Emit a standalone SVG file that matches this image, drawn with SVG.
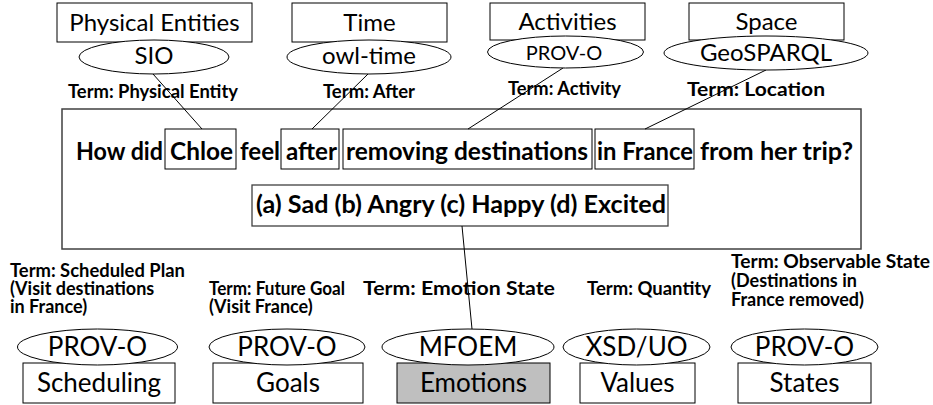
<svg xmlns="http://www.w3.org/2000/svg" width="933" height="405" viewBox="0 0 933 405">
<style>
.bg{fill:#fff}
.box{fill:#fff;stroke:#000;stroke-width:1}
.ell{fill:#fff;stroke:#000;stroke-width:1}
.wbox{fill:none;stroke:#000;stroke-width:1}
.main{fill:#fff;stroke:#404040;stroke-width:1.5}
.ans{fill:none;stroke:#404040;stroke-width:1.3}
.gray{fill:#bfbfbf;stroke:#000;stroke-width:1}
.con{stroke:#000;stroke-width:1;fill:none}
text{font-family:Lato,"Liberation Sans",sans-serif;fill:#000}
.lbl{font-size:24px;text-anchor:middle}
.lbs{font-size:20px;text-anchor:middle}
.lbb{font-size:26px;text-anchor:middle}
.term{font-size:18px;font-weight:bold}
.q{font-size:24px;font-weight:bold}
</style>
<rect class="bg" x="0" y="0" width="933" height="405"/>

<g id="question">
<rect class="main" x="62" y="109" width="799" height="140"/>
<rect class="wbox" x="165" y="129" width="71" height="40"/>
<rect class="wbox" x="281" y="129" width="58" height="40"/>
<rect class="wbox" x="343" y="129" width="249" height="40"/>
<rect class="wbox" x="595" y="129" width="99" height="40"/>
<text class="q" x="76" y="160" textLength="87" lengthAdjust="spacingAndGlyphs">How did</text>
<text class="q" x="170" y="160" textLength="63" lengthAdjust="spacingAndGlyphs">Chloe</text>
<text class="q" x="240" y="160" textLength="40" lengthAdjust="spacingAndGlyphs">feel</text>
<text class="q" x="286" y="160" textLength="51" lengthAdjust="spacingAndGlyphs">after</text>
<text class="q" x="346" y="160" textLength="242" lengthAdjust="spacingAndGlyphs">removing destinations</text>
<text class="q" x="597" y="160" textLength="96" lengthAdjust="spacingAndGlyphs">in France</text>
<text class="q" x="700" y="160" textLength="153" lengthAdjust="spacingAndGlyphs">from her trip?</text>
</g>

<g id="answers">
<rect class="ans" x="252" y="185" width="416" height="41"/>
<text class="q" x="256" y="213" textLength="410" lengthAdjust="spacingAndGlyphs">(a) Sad (b) Angry (c) Happy (d) Excited</text>
</g>

<g id="connectors">
<line class="con" x1="153" y1="74" x2="202" y2="129"/>
<line class="con" x1="368" y1="74" x2="312" y2="129"/>
<line class="con" x1="563" y1="68" x2="468" y2="129"/>
<line class="con" x1="766" y1="70" x2="645" y2="129"/>
<line class="con" x1="462" y1="226" x2="472" y2="329"/>
</g>

<g id="physical-entities">
<rect class="box" x="57" y="3" width="195" height="39"/>
<text class="lbl" x="154.5" y="31">Physical Entities</text>
<ellipse class="ell" cx="154" cy="57" rx="75" ry="17"/>
<text class="lbl" x="154" y="64">SIO</text>
<text class="term" x="68" y="98" textLength="170" lengthAdjust="spacingAndGlyphs">Term: Physical Entity</text>
</g>

<g id="time">
<rect class="box" x="292" y="3" width="155" height="39"/>
<text class="lbl" x="369.5" y="31">Time</text>
<ellipse class="ell" cx="369" cy="57" rx="82" ry="17"/>
<text class="lbl" x="369" y="64">owl-time</text>
<text class="term" x="323" y="98" textLength="92" lengthAdjust="spacingAndGlyphs">Term: After</text>
</g>

<g id="activities">
<rect class="box" x="490" y="3" width="155" height="37"/>
<text class="lbl" x="567.5" y="30">Activities</text>
<ellipse class="ell" cx="565.5" cy="52" rx="78" ry="16"/>
<text class="lbs" x="564" y="60">PROV-O</text>
<text class="term" x="508" y="95" textLength="113" lengthAdjust="spacingAndGlyphs">Term: Activity</text>
</g>

<g id="space">
<rect class="box" x="689" y="3" width="155" height="37"/>
<text class="lbl" x="766.5" y="30">Space</text>
<ellipse class="ell" cx="766" cy="53" rx="102" ry="17"/>
<text class="lbl" x="766" y="61">GeoSPARQL</text>
<text class="term" x="687" y="96" textLength="138" lengthAdjust="spacingAndGlyphs">Term: Location</text>
</g>

<g id="scheduling">
<text class="term" x="10" y="277" textLength="175" lengthAdjust="spacingAndGlyphs">Term: Scheduled Plan</text>
<text class="term" x="10" y="295">(Visit destinations</text>
<text class="term" x="10" y="313">in France)</text>
<rect class="box" x="23" y="363" width="152" height="40"/>
<text class="lbb" x="99" y="392">Scheduling</text>
<ellipse class="ell" cx="97.5" cy="347" rx="80" ry="18"/>
<text class="lbb" x="97.5" y="356">PROV-O</text>
</g>

<g id="goals">
<text class="term" x="209" y="295" textLength="136" lengthAdjust="spacingAndGlyphs">Term: Future Goal</text>
<text class="term" x="209" y="313">(Visit France)</text>
<rect class="box" x="213" y="363" width="150" height="40"/>
<text class="lbb" x="288" y="392">Goals</text>
<ellipse class="ell" cx="287" cy="347" rx="78" ry="18"/>
<text class="lbb" x="287" y="356">PROV-O</text>
</g>

<g id="emotions">
<text class="term" x="363" y="295" textLength="192" lengthAdjust="spacingAndGlyphs">Term: Emotion State</text>
<rect class="gray" x="397" y="363" width="153" height="40"/>
<text class="lbb" x="473.5" y="392">Emotions</text>
<ellipse class="ell" cx="468" cy="347" rx="86" ry="18"/>
<text class="lbb" x="468" y="356">MFOEM</text>
</g>

<g id="values">
<text class="term" x="587" y="295" textLength="124" lengthAdjust="spacingAndGlyphs">Term: Quantity</text>
<rect class="box" x="580" y="363" width="115" height="40"/>
<text class="lbb" x="637.5" y="392">Values</text>
<ellipse class="ell" cx="636.5" cy="347" rx="73.5" ry="18"/>
<text class="lbb" x="636.5" y="356">XSD/UO</text>
</g>

<g id="states">
<text class="term" x="731" y="268" textLength="199" lengthAdjust="spacingAndGlyphs">Term: Observable State</text>
<text class="term" x="731" y="287">(Destinations in</text>
<text class="term" x="731" y="306">France removed)</text>
<rect class="box" x="738" y="363" width="133" height="40"/>
<text class="lbb" x="804.5" y="392">States</text>
<ellipse class="ell" cx="804.5" cy="347" rx="73.5" ry="18"/>
<text class="lbb" x="804.5" y="356">PROV-O</text>
</g>
</svg>
